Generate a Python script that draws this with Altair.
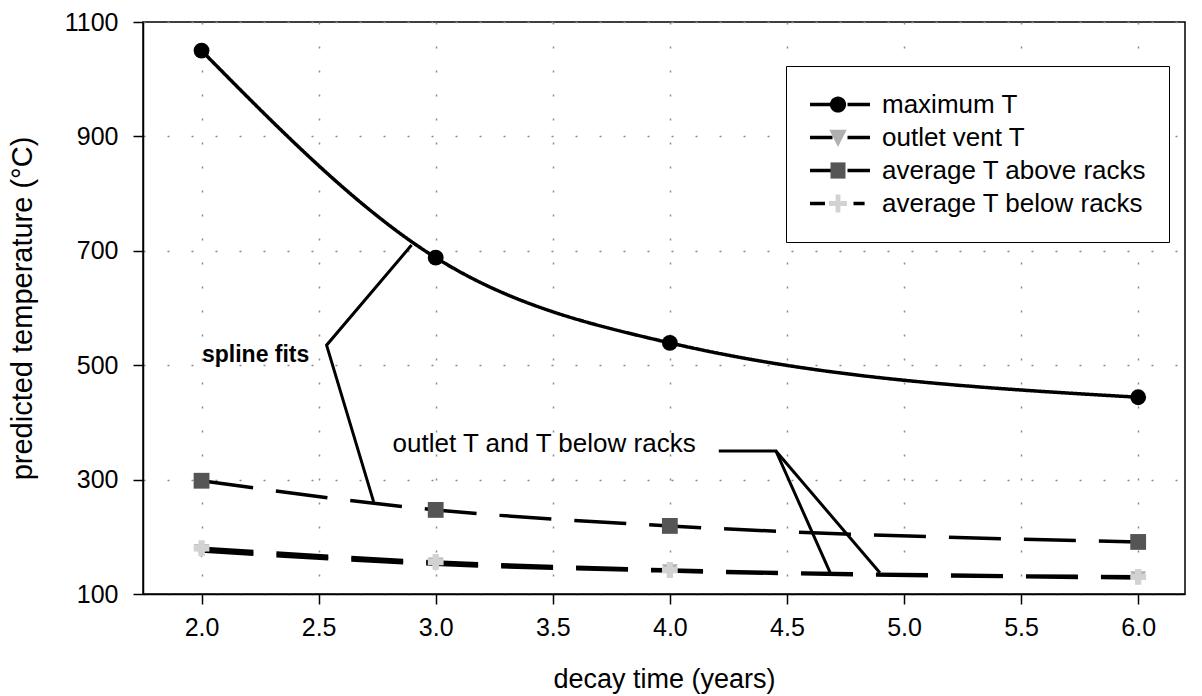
import altair as alt
import pandas as pd

# ---- data ----
time_years = [2.0, 3.0, 4.0, 6.0]
max_T = [1050, 688, 539, 444]
outlet_vent_T = [175, 152, 140, 128]
above_racks_T = [298, 247, 219, 191]
below_racks_T = [180, 156, 142, 130]
series_names = ["maximum T", "outlet vent T", "average T above racks", "average T below racks"]

x_ticks = [2.0, 2.5, 3.0, 3.5, 4.0, 4.5, 5.0, 5.5, 6.0]
y_ticks = [100, 300, 500, 700, 900, 1100]

# annotation leader lines (data coordinates)
lead_group = ["s", "s", "s", "o1", "o1", "o1", "o2", "o2"]
lead_order = [0, 1, 2, 0, 1, 2, 0, 1]
lead_x = [2.897, 2.534, 2.735, 4.209, 4.453, 4.684, 4.453, 4.897]
lead_y = [710, 535, 261, 350, 350, 138, 350, 137]

note_text = ["spline fits", "outlet T and T below racks"]
note_x = [2.231, 2.816]
note_y = [506, 348]

rows = []
for name, vals in zip(series_names, [max_T, outlet_vent_T, above_racks_T, below_racks_T]):
    for t, v in zip(time_years, vals):
        rows.append({"series": name, "time": t, "temp": v})
df = pd.DataFrame(rows)

lead_df = pd.DataFrame({"g": lead_group, "o": lead_order, "x": lead_x, "y": lead_y})
note_df = pd.DataFrame({"text": note_text, "x": note_x, "y": note_y})

FONT = "Liberation Sans"
xs = alt.Scale(domain=[1.75, 6.2], nice=False, zero=False)
ys = alt.Scale(domain=[100, 1100], nice=False, zero=False)

x_enc = alt.X("time:Q", scale=xs,
              axis=alt.Axis(values=x_ticks, format=".1f", title="decay time (years)",
                            labelPadding=11, titlePadding=26, titleFontSize=27))
y_enc = alt.Y("temp:Q", scale=ys,
              axis=alt.Axis(values=y_ticks, format="d", title="predicted temperature (°C)",
                            labelPadding=15, titlePadding=27, titleFontSize=29))

base = alt.Chart(df)

lines = base.mark_line(interpolate="monotone", color="black", strokeWidth=3.5).encode(
    x=x_enc, y=y_enc, detail="series:N",
    strokeDash=alt.StrokeDash("series:N", scale=alt.Scale(
        domain=series_names, range=[[1, 0], [52, 23], [52, 23], [52, 23]]), legend=None),
)

points = base.mark_point(filled=True, opacity=1, size=250).encode(
    x=x_enc, y=y_enc,
    shape=alt.Shape("series:N", scale=alt.Scale(
        domain=series_names, range=["circle", "triangle-down", "square", "cross"]), legend=None),
    fill=alt.Fill("series:N", scale=alt.Scale(
        domain=series_names, range=["black", "#b0b0b0", "#555555", "#d2d2d2"]), legend=None),
)

# legend: line part (with labels and frame) and marker part drawn on top of it
line_paths = [
    "M-1,0H-0.25M0.25,0H1",
    "M-1,0H-0.25M0.25,0H1",
    "M-1,0H-0.25M0.25,0H1",
    "M-1,0H-0.5M0.45,0H0.82",
]
marker_paths = [
    "M-0.27,0A0.27,0.27 0 1,0 0.27,0A0.27,0.27 0 1,0 -0.27,0Z",
    "M-0.29,-0.26L0.29,-0.26L0,0.32Z",
    "M-0.25,-0.27H0.25V0.27H-0.25Z",
    "M-0.08,-0.3H0.08V-0.08H0.3V0.08H0.08V0.3H-0.08V0.08H-0.3V-0.08H-0.08Z",
]

common_legend = dict(title=None, orient="none", legendX=643, legendY=44,
                     symbolSize=3600, clipHeight=33, rowPadding=0, padding=22,
                     labelFont=FONT, labelFontSize=26, labelLimit=500, labelOffset=10,
                     labelColor="black")

legend_lines = base.transform_filter("false").mark_point(
    filled=False, color="black", strokeWidth=3.5, size=3600).encode(
    x=x_enc, y=y_enc,
    shape=alt.Shape("series:N", scale=alt.Scale(domain=series_names, range=line_paths),
                    legend=alt.Legend(symbolStrokeWidth=3.5, symbolStrokeColor="black",
                                      strokeColor="black", fillColor="white",
                                      symbolOpacity=1, **common_legend)),
)

marker_legend = alt.Legend(labelExpr="''", symbolStrokeWidth=0, symbolOpacity=1, **common_legend)
legend_marks = base.transform_filter("false").mark_point(
    filled=True, size=3600, opacity=1).encode(
    x=x_enc, y=y_enc,
    shape=alt.Shape("series:N", scale=alt.Scale(domain=series_names, range=marker_paths),
                    legend=marker_legend),
    fill=alt.Fill("series:N", scale=alt.Scale(
        domain=series_names, range=["black", "#b0b0b0", "#555555", "#d2d2d2"]),
        legend=marker_legend),
)

leaders = alt.Chart(lead_df).mark_line(color="black", strokeWidth=3).encode(
    x=alt.X("x:Q", scale=xs), y=alt.Y("y:Q", scale=ys), detail="g:N", order="o:Q")

note1 = alt.Chart(note_df).transform_filter("datum.text == 'spline fits'").mark_text(
    font=FONT, fontSize=23, fontWeight="bold", align="center", baseline="alphabetic",
    color="black").encode(x=alt.X("x:Q", scale=xs), y=alt.Y("y:Q", scale=ys), text="text:N")
note2 = alt.Chart(note_df).transform_filter("datum.text != 'spline fits'").mark_text(
    font=FONT, fontSize=26, align="left", baseline="alphabetic",
    color="black").encode(x=alt.X("x:Q", scale=xs), y=alt.Y("y:Q", scale=ys), text="text:N")

chart = alt.layer(lines, leaders, points, note1, note2, legend_lines, legend_marks).resolve_scale(
    shape="independent", fill="independent"
).properties(
    width=1042, height=572,
    padding={"left": 143, "top": 22, "right": 17, "bottom": 102},
    autosize=alt.AutoSizeParams(type="none"),
    background="white",
).configure_axis(
    domainColor="black", domainWidth=1.5, tickColor="black", tickWidth=1.5, tickSize=10,
    labelFont=FONT, labelFontSize=25, labelColor="black",
    titleFont=FONT, titleFontSize=25, titleFontWeight="normal", titleColor="black",
    gridColor="#8a8a8a", gridDash=[2, 22], gridWidth=1.5,
).configure_view(stroke="black", strokeWidth=1.5)

chart.save("out.html", embed_options={"renderer": "svg", "actions": False})
